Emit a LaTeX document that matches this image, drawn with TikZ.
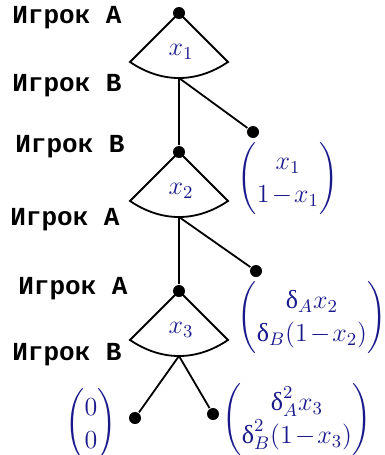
\RequirePackage{fix-cm}
\documentclass[tikz,border=0pt]{standalone}
\usepackage{amsmath}
\usepackage{fontspec}
\newfontfamily\igrokfont{Liberation Mono}
\newfontfamily\grekfont{Liberation Serif}
\definecolor{vyigrysh}{RGB}{25,25,140}
\newcommand{\dlt}{\mbox{\grekfont δ}}

\begin{document}
\begin{tikzpicture}[x=0.5pt, y=-0.5pt, line width=0.9pt,
	tochka/.style={circle, fill, inner sep=0pt, minimum size=6pt},
	igrok/.style={font=\fontsize{13}{15}\igrokfont\bfseries},
	vybor/.style={text=vyigrysh, font=\fontsize{13}{15}\selectfont},
	vyigr/.style={text=vyigrysh, inner sep=0pt, font=\fontsize{13}{15}\selectfont\renewcommand{\arraystretch}{1.1}}]
	\useasboundingbox (0,0) rectangle (385,455);
	
	% Вершины дерева
	\node[tochka] (v1) at (179,13) {};
	\node[tochka] (v2) at (179,152) {};
	\node[tochka] (v3) at (179,291) {};
	\node[tochka] (t1) at (253,132) {};
	\node[tochka] (t2) at (256,271) {};
	\node[tochka] (t3) at (135,418) {};
	\node[tochka] (t4) at (213,414) {};
	
	% Секторы выбора
	\draw (v1.center) -- ++(-49,49) to[bend right=34] ++(98,0) -- (v1.center);
	\draw (v2.center) -- ++(-49,49) to[bend right=34] ++(98,0) -- (v2.center);
	\draw (v3.center) -- ++(-49,49) to[bend right=34] ++(98,0) -- (v3.center);
	\coordinate (s1) at (179,78);
	\coordinate (s2) at (179,217);
	\coordinate (s3) at (179,356);
	\node[vybor] (x1) at (181,52) {$x_1$};
	\node[vybor] (x2) at (181,191) {$x_2$};
	\node[vybor] (x3) at (181,330) {$x_3$};
	
	% Ветви
	\draw (s1) -- (v2);
	\draw (s1) -- (t1);
	\draw (s2) -- (v3);
	\draw (s2) -- (t2);
	\draw (s3) -- (t3);
	\draw (s3) -- (t4);
	
	% Игроки
	\node[igrok] (i1) at (67,18) {Игрок A};
	\node[igrok] (i2) at (67,86) {Игрок B};
	\node[igrok] (i3) at (70,147) {Игрок B};
	\node[igrok] (i4) at (65,220) {Игрок A};
	\node[igrok] (i5) at (73,289) {Игрок A};
	\node[igrok] (i6) at (67,355) {Игрок B};
	
	% Выигрыши
	\node[vyigr] (p1) at (288,179) {$\medmuskip=1.5mu\relax\begin{pmatrix} x_1\\ 1-x_1 \end{pmatrix}$};
	\node[vyigr] (p2) at (312,318) {$\medmuskip=1.5mu\relax\begin{pmatrix} \dlt_A x_2\\ \dlt_B(1-x_2) \end{pmatrix}$};
	\node[vyigr] (p3) at (297,420) {$\medmuskip=1.5mu\relax\begin{pmatrix} \dlt_A^2 x_3\\ \dlt_B^2(1-x_3) \end{pmatrix}$};
	\node[vyigr] (p0) at (91,425) {$\begin{pmatrix} 0\\ 0 \end{pmatrix}$};
\end{tikzpicture}
\end{document}
